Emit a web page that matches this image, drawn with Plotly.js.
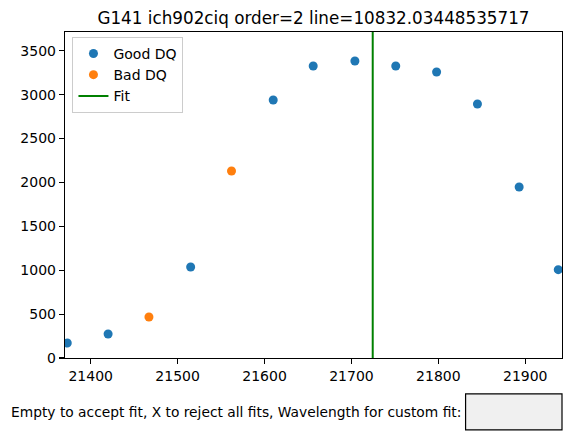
<!DOCTYPE html>
<html>
<head>
<meta charset="utf-8">
<script src="https://cdn.plot.ly/plotly-3.0.1.min.js"></script>
<style>html,body{margin:0;padding:0;background:#fff;}#chart{width:570px;height:445px;}</style>
</head>
<body>
<div id="chart"></div>
<script>
// Data
var goodX = [21373, 21420, 21515, 21610, 21656, 21704, 21751, 21798, 21845, 21893, 21938];
var goodY = [171, 273, 1036, 2938, 3326, 3383, 3326, 3258, 2893, 1948, 1006];
var badX = [21467, 21562];
var badY = [467, 2130];
var fitLine = [21724.5];
var xRange = [21370.4, 21942.3];
var yRange = [0, 3713];
var xTicks = [21400, 21500, 21600, 21700, 21800, 21900];
var yTicks = [0, 500, 1000, 1500, 2000, 2500, 3000, 3500];
var titleText = 'G141 ich902ciq order=2 line=10832.03448535717';
var promptText = 'Empty to accept fit, X to reject all fits, Wavelength for custom fit:';

var font = 'DejaVu Sans, sans-serif';

var traces = [
  {x: goodX, y: goodY, type: 'scatter', mode: 'markers', name: 'Good DQ',
   marker: {color: '#1f77b4', size: 9}, cliponaxis: true},
  {x: badX, y: badY, type: 'scatter', mode: 'markers', name: 'Bad DQ',
   marker: {color: '#ff7f0e', size: 9}, cliponaxis: true},
  {x: [fitLine[0], fitLine[0]], y: [yRange[0], yRange[1]], type: 'scatter', mode: 'lines', name: 'Fit',
   line: {color: '#008000', width: 2}}
];

var axisCommon = {
  showline: true, mirror: true, linecolor: '#000', linewidth: 1.2,
  ticks: 'outside', ticklen: 5, tickwidth: 1.2, tickcolor: '#000',
  showgrid: false, zeroline: false,
  tickfont: {family: font, size: 14, color: '#000'}
};

var layout = {
  width: 570, height: 445,
  margin: {l: 65, r: 8.3, t: 32, b: 86.7},
  paper_bgcolor: '#fff', plot_bgcolor: '#fff',
  title: {text: titleText, font: {family: font, size: 16.8, color: '#000'},
          xref: 'paper', x: 0.5, xanchor: 'center', yref: 'container', y: 1 - 18/445, yanchor: 'middle'},
  xaxis: Object.assign({}, axisCommon, {range: xRange, tickvals: xTicks, ticktext: xTicks.map(String)}),
  yaxis: Object.assign({}, axisCommon, {range: yRange, tickvals: yTicks, ticktext: yTicks.map(String)}),
  showlegend: true,
  legend: {x: 0.015, y: 0.985, xanchor: 'left', yanchor: 'top',
           bgcolor: 'rgba(255,255,255,0.8)', bordercolor: '#cccccc', borderwidth: 1,
           font: {family: font, size: 14, color: '#000'}, tracegroupgap: 0, itemwidth: 30},
  annotations: [
    {text: promptText, xref: 'paper', yref: 'paper', x: (463 - 65) / 496.7, y: (358.3 - 412) / 326.3,
     xanchor: 'right', yanchor: 'middle', showarrow: false,
     font: {family: font, size: 13.8, color: '#000'}}
  ],
  shapes: [
    {type: 'rect', xref: 'paper', yref: 'paper', x0: 0.806, x1: 1.0, y0: -0.2207, y1: -0.1103,
     fillcolor: '#f0f0f0', line: {color: '#000', width: 1.2}}
  ]
};

Plotly.newPlot('chart', traces, layout, {displayModeBar: false, staticPlot: true});
</script>
</body>
</html>
